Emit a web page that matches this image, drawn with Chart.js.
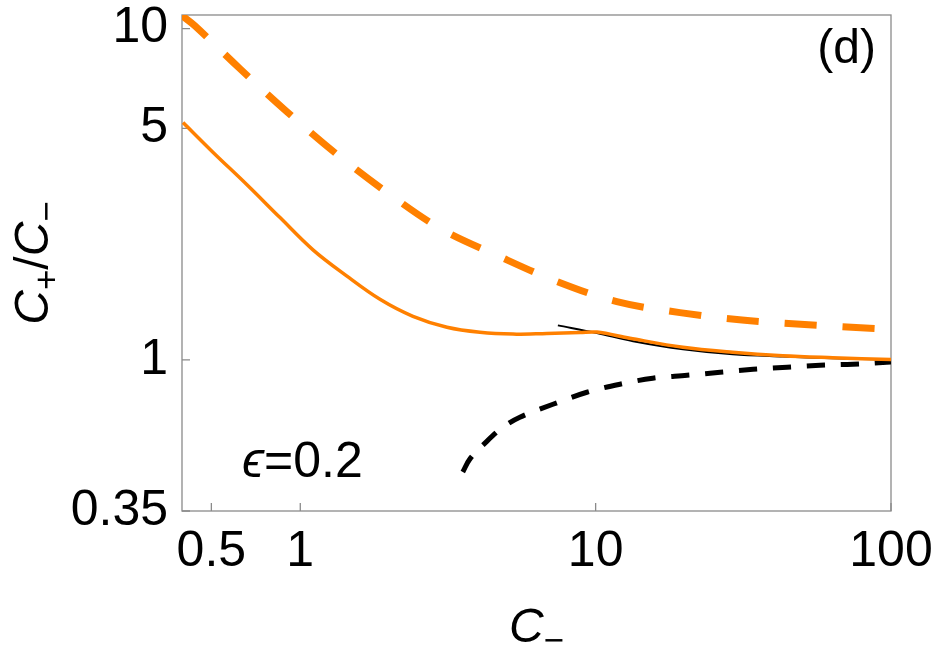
<!DOCTYPE html>
<html>
<head>
<meta charset="utf-8">
<script src="https://cdn.jsdelivr.net/npm/chart.js@4"></script>
<style>
  html, body { margin: 0; padding: 0; background: #fff; }
  #wrap { width: 938px; height: 653px; }
</style>
</head>
<body>
<div id="wrap"><canvas id="ratio-chart" width="938" height="653"></canvas></div>
<script>
// values (C- on x, C+/C- on y, both log)
const orangeDashX = [0.398, 0.44, 0.625, 0.90, 1.32, 1.97, 2.99, 4.63, 7.34, 11.8, 19.3, 31.3, 51.0, 84.7, 100];
const orangeDashY = [10.95, 10.2, 7.57, 5.62, 4.20, 3.20, 2.49, 2.07, 1.73, 1.50, 1.39, 1.32, 1.28, 1.246, 1.238];

const orangeSolidX = [0.401, 0.506, 0.660, 0.854, 1.104, 1.439, 1.861, 2.407, 3.138, 4.058, 5.25, 6.84, 8.85, 10.1, 13.06, 19.75, 29.1, 43.0, 63.5, 100];
const orangeSolidY = [5.21, 4.24, 3.38, 2.69, 2.15, 1.79, 1.524, 1.354, 1.255, 1.212, 1.197, 1.203, 1.210, 1.214, 1.163, 1.092, 1.055, 1.030, 1.016, 1.003];

const blackSolidX = [7.45, 10.1, 13.4, 19.75, 29.1, 43, 63.5, 100];
const blackSolidY = [1.272, 1.205, 1.139, 1.077, 1.04, 1.024, 1.012, 1.003];

const blackDashX = [3.55, 3.75, 4.29, 4.86, 5.54, 7.17, 9.34, 12.09, 15.6, 20.4, 26.4, 34.1, 44.5, 57.5, 74.3, 100];
const blackDashY = [0.459, 0.502, 0.569, 0.627, 0.672, 0.735, 0.799, 0.845, 0.881, 0.899, 0.918, 0.937, 0.951, 0.964, 0.971, 0.986];

const xTickValues = [0.5, 1, 10, 100];
const xTickLabels = ['0.5', '1', '10', '100'];
const yTickValues = [0.35, 1, 5, 10];
const yTickLabels = ['0.35', '1', '5', '10'];

const ORANGE = '#ff8000';
const FRAME = '#8a8a8a';
const FONT = "'Liberation Sans', Arial, sans-serif";

function toPoints(xs, ys) {
    return xs.map((x, i) => ({ x: x, y: ys[i] }));
}

// draws a run of [text, italic, sub] pieces starting at (x, y) along +x
function drawPieces(ctx, pieces, x, y, size, subSize) {
    pieces.forEach(p => {
        const s = p.sub ? subSize : size;
        ctx.font = (p.italic ? 'italic ' : '') + s + 'px ' + FONT;
        ctx.fillText(p.text, x, y + (p.sub ? 10 : 0));
        x += ctx.measureText(p.text).width;
    });
}

function piecesWidth(ctx, pieces, size, subSize) {
    let w = 0;
    pieces.forEach(p => {
        const s = p.sub ? subSize : size;
        ctx.font = (p.italic ? 'italic ' : '') + s + 'px ' + FONT;
        w += ctx.measureText(p.text).width;
    });
    return w;
}

const frameAndText = {
    id: 'frameAndText',
    beforeDatasetsDraw(chart) {
        const { ctx, chartArea: a, scales } = chart;
        ctx.save();
        ctx.strokeStyle = FRAME;
        ctx.lineWidth = 1.3;
        ctx.strokeRect(a.left, a.top, a.right - a.left, a.bottom - a.top);
        // inward ticks
        ctx.beginPath();
        scales.x.ticks.forEach(t => {
            const px = scales.x.getPixelForValue(t.value);
            ctx.moveTo(px, a.bottom);
            ctx.lineTo(px, a.bottom - 8);
        });
        scales.y.ticks.forEach(t => {
            const py = scales.y.getPixelForValue(t.value);
            ctx.moveTo(a.left, py);
            ctx.lineTo(a.left + 8, py);
        });
        ctx.stroke();
        ctx.restore();
    },
    afterDraw(chart) {
        const { ctx, chartArea: a } = chart;
        ctx.save();
        ctx.fillStyle = '#000';
        ctx.textBaseline = 'alphabetic';

        // panel label
        ctx.font = '48px ' + FONT;
        ctx.textAlign = 'right';
        ctx.fillText('(d)', a.right - 15, a.top + 48);

        // epsilon note
        ctx.textAlign = 'left';
        drawPieces(ctx, [
            { text: 'ϵ', italic: true },
            { text: '=0.2' }
        ], a.left + 60, a.bottom - 34, 50, 50);

        // x title
        const xt = [{ text: 'C', italic: true }, { text: '−', sub: true }];
        const xw = piecesWidth(ctx, xt, 48, 35);
        drawPieces(ctx, xt, (a.left + a.right) / 2 - xw / 2, 642, 48, 35);

        // y title, rotated
        const yt = [
            { text: 'C', italic: true }, { text: '+', sub: true },
            { text: '/' },
            { text: 'C', italic: true }, { text: '−', sub: true }
        ];
        const yw = piecesWidth(ctx, yt, 48, 35);
        ctx.translate(48, (a.top + a.bottom) / 2);
        ctx.rotate(-Math.PI / 2);
        drawPieces(ctx, yt, -yw / 2, 0, 48, 35);
        ctx.restore();
    }
};

const ctx = document.getElementById('ratio-chart').getContext('2d');

new Chart(ctx, {
    type: 'line',
    data: {
        datasets: [
            {
                data: toPoints(orangeSolidX, orangeSolidY),
                borderColor: ORANGE,
                borderWidth: 3.5,
                pointRadius: 0,
                tension: 0.35,
                fill: false,
            },
            {
                data: toPoints(orangeDashX, orangeDashY),
                borderColor: ORANGE,
                borderWidth: 7,
                borderDash: [32, 26],
                borderCapStyle: 'butt',
                pointRadius: 0,
                tension: 0.35,
                fill: false,
            },
            {
                data: toPoints(blackSolidX, blackSolidY),
                borderColor: '#000',
                borderWidth: 2,
                pointRadius: 0,
                tension: 0.35,
                fill: false,
            },
            {
                data: toPoints(blackDashX, blackDashY),
                borderColor: '#000',
                borderWidth: 5,
                borderDash: [18, 16],
                borderCapStyle: 'butt',
                pointRadius: 0,
                tension: 0.35,
                fill: false,
            },
        ],
    },
    options: {
        responsive: false,
        animation: false,
        layout: { padding: { top: 15, right: 47, left: 0, bottom: 0 } },
        plugins: {
            legend: { display: false },
            tooltip: { enabled: false },
        },
        scales: {
            x: {
                type: 'logarithmic',
                position: 'bottom',
                min: 0.3977,
                max: 100,
                afterBuildTicks: scale => { scale.ticks = xTickValues.map(v => ({ value: v })); },
                afterFit: scale => {
                    scale.height = 142;
                    scale.paddingLeft = 0;
                    scale.paddingRight = 0;
                },
                grid: { display: false },
                border: { display: false },
                ticks: {
                    autoSkip: false,
                    maxRotation: 0,
                    padding: 8,
                    color: '#000',
                    font: { family: FONT, size: 50, lineHeight: 1 },
                    callback: (v, i) => xTickLabels[i],
                },
            },
            y: {
                type: 'logarithmic',
                position: 'left',
                min: 0.35,
                max: 11,
                afterBuildTicks: scale => { scale.ticks = yTickValues.map(v => ({ value: v })); },
                afterFit: scale => {
                    scale.width = 182;
                    scale.paddingTop = 0;
                    scale.paddingBottom = 0;
                },
                grid: { display: false },
                border: { display: false },
                ticks: {
                    autoSkip: false,
                    padding: 6,
                    color: '#000',
                    font: { family: FONT, size: 50 },
                    callback: (v, i) => yTickLabels[i],
                },
            },
        },
    },
    plugins: [frameAndText],
});
</script>
</body>
</html>
